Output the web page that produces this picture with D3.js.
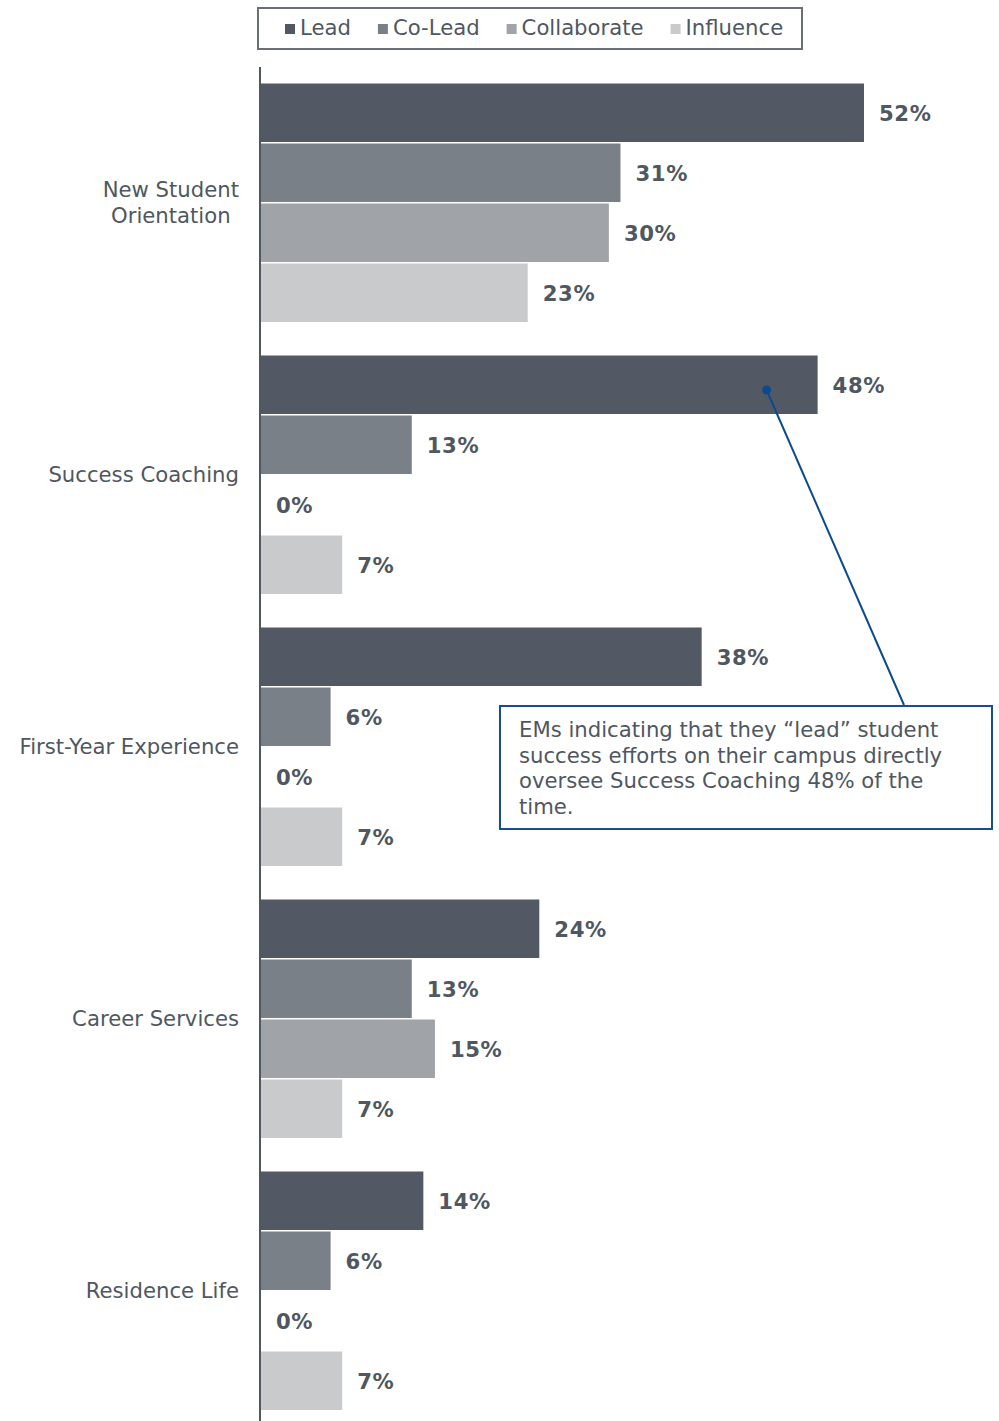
<!DOCTYPE html>
<html>
<head>
<meta charset="utf-8">
<script src="https://cdn.jsdelivr.net/npm/d3@7"></script>
<style>
  html, body { margin: 0; padding: 0; background: #fff; }
  svg { display: block; font-family: "DejaVu Sans", Verdana, sans-serif; }
</style>
</head>
<body>
<svg id="chart" width="999" height="1421"></svg>
<script>
// Areas of student success work and how enrollment managers are involved
const categories = [["New Student", "Orientation"], ["Success Coaching"], ["First-Year Experience"], ["Career Services"], ["Residence Life"]];
const seriesNames = ["Lead", "Co-Lead", "Collaborate", "Influence"];
const lead        = [52, 48, 38, 24, 14];
const coLead      = [31, 13, 6, 13, 6];
const collaborate = [30, 0, 0, 15, 0];
const influence   = [23, 7, 7, 7, 7];
const seriesColors = ["#525964", "#7a8088", "#a0a3a7", "#c9cacc"];
const noteLines = [
  "EMs indicating that they \u201clead\u201d student",
  "success efforts on their campus directly",
  "oversee Success Coaching 48% of the",
  "time."
];

const seriesValues = [lead, coLead, collaborate, influence];
const textColor = "#4f5761";
const fontSize = 21.2;
const svg = d3.select("#chart");

const x = d3.scaleLinear().domain([0, 52]).range([261, 864]);
const y0 = d3.scaleBand()
  .domain(d3.range(categories.length))
  .range([67, 1427])
  .paddingInner(0.1176)
  .paddingOuter(0.0588);
const y1 = d3.scaleBand()
  .domain(seriesNames)
  .range([0, y0.bandwidth()]);

// Bars and value labels
const groups = svg.append("g").selectAll("g")
  .data(categories.map((c, i) => ({ i, c })))
  .join("g")
  .attr("transform", d => `translate(0,${y0(d.i)})`);

groups.each(function(g) {
  const sel = d3.select(this);
  const rows = seriesNames.map((s, k) => ({ s, k, v: seriesValues[k][g.i] }));
  sel.selectAll("rect")
    .data(rows)
    .join("rect")
    .attr("x", x(0))
    .attr("y", d => y1(d.s) + 0.5)
    .attr("width", d => x(d.v) - x(0))
    .attr("height", y1.bandwidth() - 1.5)
    .attr("fill", d => seriesColors[d.k]);
  sel.selectAll("text")
    .data(rows)
    .join("text")
    .attr("x", d => x(d.v) + 15)
    .attr("y", d => y1(d.s) + y1.bandwidth() / 2 + 2)
    .attr("dominant-baseline", "middle")
    .attr("font-size", fontSize)
    .attr("font-weight", "bold")
    .attr("letter-spacing", 0.6)
    .attr("fill", textColor)
    .text(d => d.v + "%");
});

// Category axis line
svg.append("line")
  .attr("x1", 260).attr("x2", 260)
  .attr("y1", 67).attr("y2", 1421)
  .attr("stroke", textColor).attr("stroke-width", 2);

// Category labels (wrapped names are centred on their widest line)
categories.forEach((lines, i) => {
  const cy = y0(i) + y0.bandwidth() / 2 + 1;
  const lh = 26;
  const t = svg.append("text")
    .attr("font-size", fontSize)
    .attr("fill", textColor);
  lines.forEach((ln, j) => {
    t.append("tspan")
      .attr("y", cy + (j - (lines.length - 1) / 2) * lh)
      .attr("dominant-baseline", "middle")
      .text(ln);
  });
  if (lines.length === 1) {
    t.attr("text-anchor", "end");
    t.selectAll("tspan").attr("x", 239);
  } else {
    const widths = t.selectAll("tspan").nodes().map(n => n.getComputedTextLength());
    const maxW = d3.max(widths);
    t.attr("text-anchor", "middle");
    t.selectAll("tspan").attr("x", 239 - maxW / 2);
  }
});

// Legend
const legend = svg.append("g");
legend.append("rect")
  .attr("x", 258).attr("y", 8)
  .attr("width", 544).attr("height", 41)
  .attr("fill", "#fff")
  .attr("stroke", "#6b7078").attr("stroke-width", 2);
let lx = 285;
seriesNames.forEach((name, k) => {
  legend.append("rect")
    .attr("x", lx).attr("y", 24)
    .attr("width", 10).attr("height", 10)
    .attr("fill", seriesColors[k]);
  const t = legend.append("text")
    .attr("x", lx + 15).attr("y", 29)
    .attr("dominant-baseline", "middle")
    .attr("font-size", fontSize)
    .attr("fill", textColor)
    .text(name);
  lx += 15 + t.node().getComputedTextLength() + 27;
});

// Callout pointing at the Success Coaching "Lead" bar
const pointY = y0(1) + y1("Lead") + y1.bandwidth() / 2 + 5;
const pointX = x(lead[1]) - 51;
svg.append("line")
  .attr("x1", pointX).attr("y1", pointY)
  .attr("x2", 904).attr("y2", 705)
  .attr("stroke", "#0d4a8c").attr("stroke-width", 2);
svg.append("circle")
  .attr("cx", pointX).attr("cy", pointY).attr("r", 4.5)
  .attr("fill", "#0d4a8c");
svg.append("rect")
  .attr("x", 500).attr("y", 706)
  .attr("width", 492).attr("height", 123)
  .attr("fill", "#fff")
  .attr("stroke", "#1a4d8c").attr("stroke-width", 2);
const note = svg.append("text")
  .attr("font-size", fontSize)
  .attr("fill", textColor);
noteLines.forEach((ln, j) => {
  note.append("tspan")
    .attr("x", 519)
    .attr("y", 737 + j * 25.5)
    .text(ln);
});
</script>
</body>
</html>
